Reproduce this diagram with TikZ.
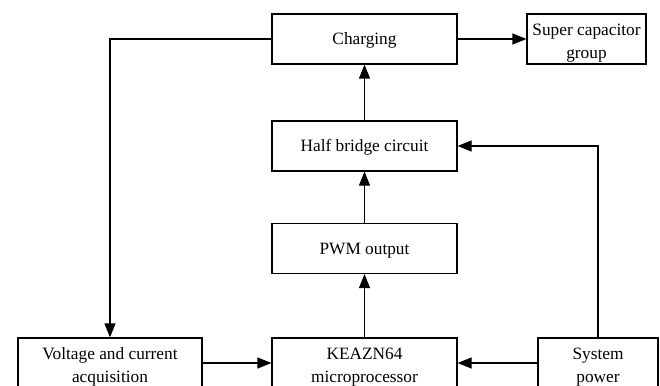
\documentclass[tikz,border=0pt]{standalone}
\usepackage{fontspec}
\setmainfont{Liberation Serif}
\usetikzlibrary{arrows.meta}
\newcommand{\myupone}{\rule{0pt}{15.5pt}}
\newcommand{\myuptwo}{\rule{0pt}{20pt}}
\begin{document}
\begin{tikzpicture}[x=1pt,y=-1pt,
  blk/.style={draw,line width=1.2pt,minimum height=50pt,inner sep=0pt,align=center,
    font=\fontsize{17.3}{22.5}\selectfont},
  conn/.style={line width=1.2pt,-{Triangle[length=14pt,width=11pt]}},
  plain/.style={line width=1.2pt}]
\useasboundingbox (0,0) rectangle (660,385);
\node[blk,minimum width=185pt] (chg) at (364.5,39) {\myupone Charging};
\node[blk,minimum width=119pt] (sup) at (586.5,39) {\myuptwo Super capacitor\\group};
\node[blk,minimum width=185pt] (half) at (364.5,146) {\myupone Half bridge circuit};
\node[blk,minimum width=185pt] (pwm) at (364.5,248.5) {\myupone PWM output};
\node[blk,minimum width=185pt] (mcu) at (364.5,363) {\myuptwo KEAZN64\\microprocessor};
\node[blk,minimum width=184pt] (vca) at (110,363) {\myuptwo Voltage and current\\acquisition};
\node[blk,minimum width=120pt] (pow) at (598,363) {\myuptwo System\\power};
\coordinate (tl) at (110,39);
\draw[conn] (chg.west) -- (tl) -- (vca.north);
\draw[conn] (chg.east) -- (sup.west);
\draw[conn] (half.north) -- (chg.south);
\draw[conn] (pwm.north) -- (half.south);
\draw[conn] (mcu.north) -- (pwm.south);
\draw[conn] (vca.east) -- (mcu.west);
\draw[conn] (pow.west) -- (mcu.east);
\draw[conn] (pow.north) |- (half.east);
\end{tikzpicture}
\end{document}
